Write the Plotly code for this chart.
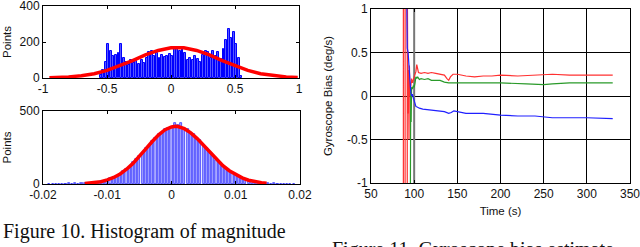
import plotly.graph_objects as go

# ---------------- data ----------------
# Histogram 1 (top-left): bin centres and counts
hist1_x = [round(-0.55 + 0.02 * i, 2) for i in range(56)]
hist1_counts = [15, 45, 90, 190, 150, 120, 130, 140, 190, 110,
                90, 75, 100, 85, 95, 80, 100, 85, 110, 145,
                150, 120, 140, 110, 130, 115, 125, 135, 120, 160,
                175, 150, 160, 140, 100, 110, 100, 120, 105, 90,
                130, 150, 145, 110, 150, 120, 145, 105, 160, 210,
                270, 220, 255, 190, 110, 10]
fit1_x = [-0.95, -0.9, -0.8, -0.7, -0.6, -0.5, -0.4, -0.3, -0.2, -0.1, 0.0,
          0.05, 0.1, 0.2, 0.3, 0.4, 0.5, 0.6, 0.7, 0.8, 0.9, 0.99]
fit1_y = [2, 3, 6, 13, 24, 42, 67, 97, 128, 153, 168,
          170, 168, 153, 128, 97, 67, 42, 24, 13, 6, 3]

# Histogram 2 (bottom-left)
hist2_x = [round(-0.019 + 0.0005 * i, 4) for i in range(77)]
hist2_counts = [3, 0, 2, 0, 3, 1, 4, 2, 5, 3, 6, 4, 8, 7, 10, 14, 20, 24, 30, 38,
                46, 58, 70, 86, 104, 118, 150, 168, 192, 214, 246, 262, 296, 312,
                340, 352, 380, 384, 392, 420, 402, 418, 386, 380, 352, 344, 310,
                300, 262, 248, 214, 196, 166, 150, 122, 108, 88, 74, 60, 46, 40,
                30, 24, 18, 14, 12, 8, 6, 5, 3, 4, 2, 3, 1, 2, 0, 3]
fit2_x = [-0.0135, -0.013, -0.012, -0.011, -0.010, -0.009, -0.008, -0.007, -0.006,
          -0.005, -0.004, -0.003, -0.002, -0.001, 0.0, 0.0006, 0.001, 0.002, 0.003,
          0.004, 0.005, 0.006, 0.007, 0.008, 0.009, 0.010, 0.011, 0.012, 0.013,
          0.014, 0.0148]
fit2_y = [3, 5, 9, 16, 28, 45, 69, 101, 141, 188, 240, 291, 337, 372, 391, 395,
          394, 379, 350, 311, 264, 215, 170, 126, 91, 63, 42, 26, 16, 9, 5]

# Gyroscope bias (right)
red_t = [87.5, 87.5, 89.5, 89.5, 92, 92, 92.5, 93, 93.5, 94, 94.5, 95, 95.5, 96, 97,
         98, 100, 102, 103, 104, 105, 108, 112, 116, 120, 125, 130, 135, 138, 140,
         142, 145, 150, 155, 160, 170, 180, 190, 200, 220, 240, 260, 280, 300, 330]
red_b = [-1.5, 1.5, 1.5, -1.5, -1.5, 1.5, 0.4, -0.2, 0.3, -0.5, 0.35, 0.0, 0.15,
         0.1, 0.2, 0.15, 0.22, 0.28, 0.36, 0.3, 0.27, 0.26, 0.27, 0.26, 0.27, 0.26,
         0.25, 0.24, 0.2, 0.18, 0.22, 0.25, 0.25, 0.24, 0.23, 0.22, 0.23, 0.23,
         0.24, 0.23, 0.24, 0.25, 0.24, 0.24, 0.24]
green_t = [95.5, 96, 96.5, 97, 98, 99, 100, 101, 102, 103, 104, 106, 108, 112, 116,
           120, 130, 135, 140, 150, 160, 180, 200, 230, 250, 260, 280, 330]
green_b = [-1.5, 0.05, -0.3, 0.1, 0.08, 0.12, 0.1, 0.15, 0.22, 0.2, 0.22, 0.19,
           0.2, 0.19, 0.2, 0.18, 0.18, 0.16, 0.15, 0.15, 0.15, 0.15, 0.15, 0.14,
           0.13, 0.14, 0.15, 0.15]
blue_t = [91, 92, 93, 94, 95, 96, 97, 98, 99, 100, 101, 102, 104, 106, 110, 120,
          130, 135, 140, 143, 146, 150, 160, 180, 200, 220, 240, 260, 280, 300, 330]
blue_b = [1.5, 0.55, 0.5, 0.3, 0.1, 0.05, 0.0, 0.02, -0.02, -0.05, -0.1, -0.12,
          -0.13, -0.14, -0.15, -0.16, -0.17, -0.18, -0.2, -0.19, -0.17, -0.18,
          -0.2, -0.2, -0.22, -0.23, -0.23, -0.25, -0.25, -0.25, -0.26]
event_t = [100, 100]
event_b = [-1, 1]

# ---------------- figure ----------------
W, H = 640, 247
def dx(a, b):
    return [a / W, b / W]
def dy(top, bot):
    return [1 - bot / H, 1 - top / H]

fig = go.Figure()

fig.add_trace(go.Bar(x=hist1_x, y=hist1_counts, width=0.015,
                     marker=dict(color="#5555ff", line=dict(color="#0000ff", width=1)),
                     xaxis="x", yaxis="y"))
fig.add_trace(go.Scatter(x=fit1_x, y=fit1_y, mode="lines", line=dict(color="#ff0000", width=3.5),
                         xaxis="x", yaxis="y"))
fig.add_trace(go.Bar(x=hist2_x, y=hist2_counts, width=0.00033,
                     marker=dict(color="#a8a8ff", line=dict(color="#2020ff", width=0.7)),
                     xaxis="x2", yaxis="y2"))
fig.add_trace(go.Scatter(x=fit2_x, y=fit2_y, mode="lines", line=dict(color="#ff0000", width=3.5),
                         xaxis="x2", yaxis="y2"))
fig.add_trace(go.Scatter(x=event_t, y=event_b, mode="lines", line=dict(color="#777777", width=2),
                         xaxis="x3", yaxis="y3"))
fig.add_trace(go.Scatter(x=red_t, y=red_b, mode="lines", line=dict(color="#ff3030", width=1.2),
                         xaxis="x3", yaxis="y3"))
fig.add_trace(go.Scatter(x=green_t, y=green_b, mode="lines", line=dict(color="#2a9a2a", width=1.2),
                         xaxis="x3", yaxis="y3"))
fig.add_trace(go.Scatter(x=blue_t, y=blue_b, mode="lines", line=dict(color="#2020ff", width=1.2),
                         xaxis="x3", yaxis="y3"))

tickfont = dict(family="Liberation Sans, Arial, sans-serif", size=12, color="#111")
titlefont = dict(family="Liberation Sans, Arial, sans-serif", size=11.5, color="#111")
common = dict(showline=True, linecolor="black", linewidth=1, mirror="ticks",
              ticks="inside", ticklen=3, tickcolor="black", tickfont=tickfont,
              zeroline=False, showgrid=False, ticklabeloverflow="allow")

fig.update_layout(
    width=W, height=H, margin=dict(l=0, r=0, t=0, b=0, autoexpand=False),
    paper_bgcolor="white", plot_bgcolor="white", showlegend=False, bargap=0,
    xaxis=dict(domain=dx(43, 299), range=[-1, 1], tickvals=[-1, -0.5, 0, 0.5, 1],
               ticktext=["-1", "-0.5", "0", "0.5", "1"], anchor="y", **common),
    yaxis=dict(domain=dy(6, 78), range=[0, 400], tickvals=[0, 200, 400], anchor="x",
               title=dict(text="Points", font=titlefont, standoff=5), **common),
    xaxis2=dict(domain=dx(43, 300), range=[-0.02, 0.02],
                tickvals=[-0.02, -0.01, 0, 0.01, 0.02],
                ticktext=["-0.02", "-0.01", "0", "0.01", "0.02"], anchor="y2", **common),
    yaxis2=dict(domain=dy(111, 184), range=[0, 500], tickvals=[0, 500], anchor="x2",
                title=dict(text="Points", font=titlefont, standoff=5), **common),
    xaxis3=dict(domain=dx(371, 630), range=[50, 350], tickvals=[50, 100, 150, 200, 250, 300, 350],
                anchor="y3", title=dict(text="Time (s)", font=titlefont, standoff=6),
                **{**common, "showgrid": True, "gridcolor": "black", "gridwidth": 1}),
    yaxis3=dict(domain=dy(9, 183), range=[-1, 1], tickvals=[-1, -0.5, 0, 0.5, 1],
                ticktext=["-1", "-0.5", "0", "0.5", "1"], anchor="x3",
                title=dict(text="Gyroscope Bias (deg/s)", font=titlefont, standoff=11),
                **{**common, "showgrid": True, "gridcolor": "black", "gridwidth": 1}),
    annotations=[
        dict(text="Figure 10. Histogram of magnitude", xref="paper", yref="paper",
             x=1 / W, y=1 - 218 / H, xanchor="left", yanchor="top", showarrow=False,
             font=dict(family="Liberation Serif, Times New Roman, serif", size=20, color="#111")),
        dict(text="Figure 11. Gyroscope bias estimate", xref="paper", yref="paper",
             x=330 / W, y=1 - 236 / H, xanchor="left", yanchor="top", showarrow=False,
             font=dict(family="Liberation Serif, Times New Roman, serif", size=20, color="#111")),
    ],
)

fig.write_html("out.html", config={"displayModeBar": False},
               post_script="document.body.style.margin='0';")
